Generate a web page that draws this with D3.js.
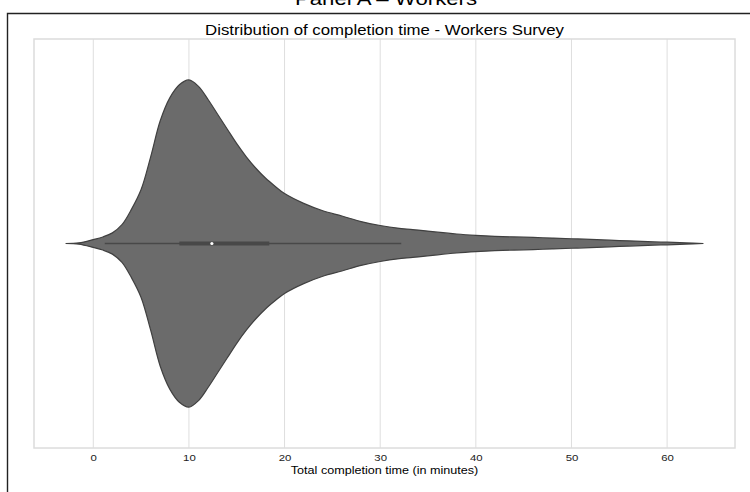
<!DOCTYPE html>
<html>
<head>
<meta charset="utf-8">
<script src="https://cdn.jsdelivr.net/npm/d3@7"></script>
<style>
  html, body { margin: 0; padding: 0; background: #fff; }
  svg { display: block; font-family: "Liberation Sans", Arial, Helvetica, sans-serif; }
</style>
</head>
<body>
<svg id="chart" width="750" height="492"></svg>
<script>
// ---- Data ----
const panelTitle = "Panel A \u2013 Workers";
const chartTitle = "Distribution of completion time - Workers Survey";
const xLabel = "Total completion time (in minutes)";
const xTicks = [0, 10, 20, 30, 40, 50, 60];

// Kernel-density outline of the violin: time (minutes) and relative density
const densityTime = [-2.9, -1.5, 0, 1, 2, 3, 4, 5, 6, 7, 8, 9, 10, 11, 12, 13, 14, 15, 16, 17, 18, 19, 20,
  22, 24, 26, 28, 30, 32, 34, 36, 38, 40, 42, 44, 46, 48, 50, 52, 55, 58, 60, 62, 63.8];
const densityValue = [0, 0.4, 2.4, 4.0, 6.5, 11.5, 21, 33, 53, 75, 89, 97, 100, 96, 88, 79, 70, 61, 53, 46, 40, 35, 30.5,
  24.5, 20, 16.8, 13.4, 11, 9.3, 8.2, 6.9, 5.8, 5.0, 4.4, 4.0, 3.7, 3.3, 2.9, 2.5, 1.8, 1.1, 0.8, 0.35, 0];

// Box statistics (minutes)
const whiskerLow = 1.2;
const q1 = 9.0;
const median = 12.4;
const q3 = 18.4;
const whiskerHigh = 32.2;

// ---- Layout ----
const svg = d3.select("#chart");
const plot = { left: 34, right: 735, top: 39, bottom: 448 };
const sx = 1.2; // horizontal text stretch seen in the reference

function label(txt, cx, cy, size, fill) {
  return svg.append("text")
    .attr("transform", `translate(${cx},${cy}) scale(${sx},1)`)
    .attr("text-anchor", "middle")
    .attr("font-size", size).attr("fill", fill)
    .text(txt);
}

// outer figure frame
svg.append("path")
  .attr("d", `M7.5,492 L7.5,13.5 L750,13.5`)
  .attr("fill", "none").attr("stroke", "#222").attr("stroke-width", 1.4);

label(panelTitle, 386, 5, 18.5, "#000");

const x = d3.scaleLinear()
  .domain([-6.2, 67.1])
  .range([plot.left, plot.right]);

const y = d3.scaleLinear()
  .domain([-0.5, 0.5])
  .range([plot.top, plot.bottom]);

const halfW = d3.scaleLinear()
  .domain([0, d3.max(densityValue)])
  .range([0, y(0.4) - y(0)]);

// grid
svg.append("g")
  .selectAll("line")
  .data(xTicks)
  .join("line")
  .attr("x1", d => x(d)).attr("x2", d => x(d))
  .attr("y1", plot.top).attr("y2", plot.bottom)
  .attr("stroke", "#dedede").attr("stroke-width", 1);

// axes frame (light spines)
svg.append("rect")
  .attr("x", plot.left).attr("y", plot.top)
  .attr("width", plot.right - plot.left).attr("height", plot.bottom - plot.top)
  .attr("fill", "none").attr("stroke", "#dcdcdc").attr("stroke-width", 1.5);

// violin
const pts = densityTime.map((t, i) => ({ t, d: densityValue[i] }));
const area = d3.area()
  .x(d => x(d.t))
  .y0(d => y(0) - halfW(d.d))
  .y1(d => y(0) + halfW(d.d))
  .curve(d3.curveCatmullRom.alpha(0.5));

svg.append("path")
  .datum(pts)
  .attr("d", area)
  .attr("fill", "#6b6b6b")
  .attr("stroke", "#404040")
  .attr("stroke-width", 1.2);

// inner box
const g = svg.append("g");
g.append("line")
  .attr("x1", x(whiskerLow)).attr("x2", x(whiskerHigh))
  .attr("y1", y(0)).attr("y2", y(0))
  .attr("stroke", "#484848").attr("stroke-width", 1.4);
g.append("line")
  .attr("x1", x(q1)).attr("x2", x(q3))
  .attr("y1", y(0)).attr("y2", y(0))
  .attr("stroke", "#484848").attr("stroke-width", 4);
g.append("circle")
  .attr("cx", x(median)).attr("cy", y(0)).attr("r", 1.6)
  .attr("fill", "#fff");

// x axis (labels only, seaborn whitegrid style)
const xAxis = d3.axisBottom(x).tickValues(xTicks).tickSize(0).tickPadding(0);
const ax = svg.append("g")
  .attr("transform", `translate(0,${plot.bottom})`)
  .call(xAxis);
ax.select(".domain").remove();
ax.selectAll("text")
  .attr("dy", null)
  .attr("y", 0)
  .attr("x", 0)
  .attr("transform", `translate(0,13) scale(${sx},1)`)
  .attr("font-size", 9.5)
  .attr("fill", "#222")
  .attr("font-family", "Liberation Sans, Arial, sans-serif");

label(xLabel, (plot.left + plot.right) / 2, 474, 10.5, "#000");
label(chartTitle, (plot.left + plot.right) / 2, 35, 14, "#000");
</script>
</body>
</html>
